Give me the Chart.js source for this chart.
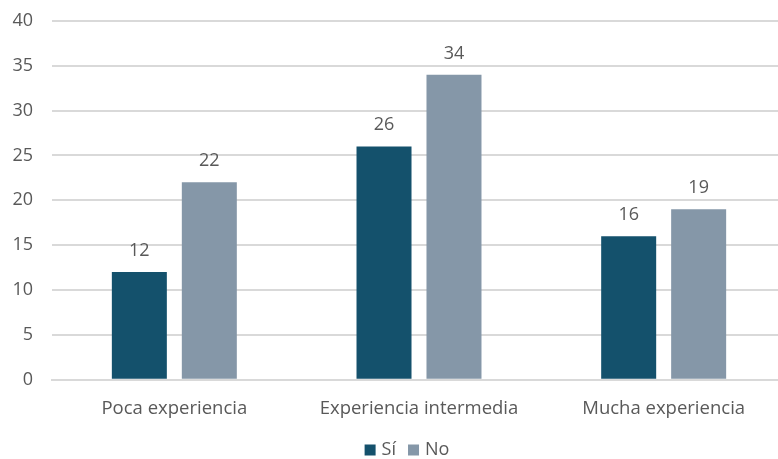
<!DOCTYPE html>
<html lang="es">
  <head>
    <meta charset="UTF-8" />
    <title>Experiencia</title>
    <script src="https://cdn.jsdelivr.net/npm/chart.js"></script>
    <style>
      html, body { margin: 0; padding: 0; background: #fff; overflow: hidden; }
      #wrap { width: 778px; height: 459px; overflow: hidden; }
      #chart { display: block; margin-top: -9px; }
    </style>
  </head>
  <body>
    <div id="wrap"><canvas id="chart" width="786" height="468"></canvas></div>
    <script>
      const categories = ["Poca experiencia", "Experiencia intermedia", "Mucha experiencia"];
      const siValues = [12, 26, 16];
      const noValues = [22, 34, 19];
      const seriesNames = ["Sí", "No"];

      const textColor = "#595959";
      const fontFamily = "'Open Sans', sans-serif";

      // draws the value above each bar
      const valueLabels = {
        id: "valueLabels",
        afterDatasetsDraw(chart) {
          const ctx = chart.ctx;
          ctx.save();
          ctx.font = "18px " + fontFamily;
          ctx.fillStyle = textColor;
          ctx.textAlign = "center";
          ctx.textBaseline = "alphabetic";
          chart.data.datasets.forEach((ds, i) => {
            chart.getDatasetMeta(i).data.forEach((bar, j) => {
              ctx.fillText(ds.data[j], bar.x, bar.y - 16);
            });
          });
          ctx.restore();
        },
      };

      // simple bottom legend, spaced like the original
      const bottomLegend = {
        id: "bottomLegend",
        afterDraw(chart) {
          const ctx = chart.ctx;
          const box = 11, gap = 6, itemGap = 12;
          ctx.save();
          ctx.font = "18px " + fontFamily;
          ctx.textBaseline = "middle";
          const items = chart.data.datasets.map(ds => ({
            text: ds.label, color: ds.backgroundColor, w: ctx.measureText(ds.label).width,
          }));
          let total = 0;
          items.forEach((it, i) => { total += box + gap + it.w + (i ? itemGap : 0); });
          const area = chart.chartArea;
          let x = (area.left + area.right) / 2 - 12 - total / 2;
          const y = chart.height - 9;
          items.forEach(it => {
            ctx.fillStyle = it.color;
            ctx.fillRect(x, y - box / 2, box, box);
            x += box + gap;
            ctx.fillStyle = textColor;
            ctx.fillText(it.text, x, y);
            x += it.w + itemGap;
          });
          ctx.restore();
        },
      };

      new Chart(document.getElementById("chart"), {
        type: "bar",
        data: {
          labels: categories,
          datasets: [
            { label: seriesNames[0], data: siValues, backgroundColor: "#14516C" },
            { label: seriesNames[1], data: noValues, backgroundColor: "#8597A8" },
          ],
        },
        options: {
          responsive: false,
          animation: false,
          layout: { padding: { top: 0, right: 0, bottom: 29, left: 0 } },
          datasets: { bar: { barPercentage: 0.786, categoryPercentage: 0.572 } },
          plugins: {
            legend: { display: false },
            tooltip: { enabled: false },
          },
          scales: {
            x: {
              grid: { display: false },
              border: { color: "#d9d9d9", width: 2 },
              ticks: { color: textColor, font: { size: 18.5, family: fontFamily }, padding: 10 },
            },
            y: {
              min: 0,
              max: 40,
              afterFit(scale) { scale.width = 52; },
              grid: { color: "#d9d9d9", lineWidth: 2, drawTicks: false },
              border: { display: false },
              ticks: { stepSize: 5, color: textColor, font: { size: 18, family: fontFamily }, padding: 19 },
            },
          },
        },
        plugins: [valueLabels, bottomLegend],
      });
    </script>
  </body>
</html>
